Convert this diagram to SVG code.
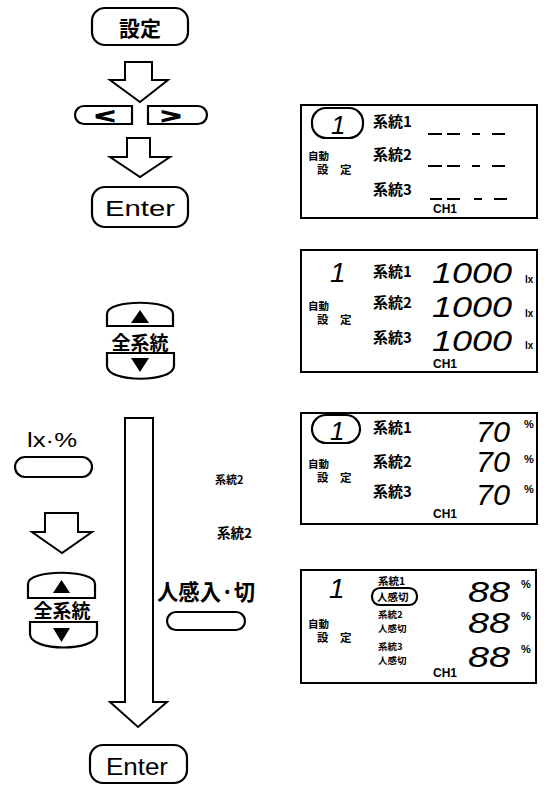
<svg xmlns="http://www.w3.org/2000/svg" width="544" height="785" viewBox="0 0 544 785">
<style>
.b{fill:#fff;stroke:#000;stroke-width:2.2}
.p{fill:#fff;stroke:#000;stroke-width:2}
.ar{fill:#fff;stroke:#000;stroke-width:2;stroke-linejoin:miter}
.j{font-family:"Noto Sans CJK JP","Noto Sans",sans-serif;font-weight:bold;fill:#000}
.l{font-family:"Liberation Sans",Arial,sans-serif;fill:#000}
.d{font-family:"Liberation Sans",Arial,sans-serif;font-style:italic;fill:#000}
.dash{stroke:#000;stroke-width:2.2}
.chev{font-family:"Liberation Sans",Arial,sans-serif;font-weight:bold;fill:#000;stroke:#000;stroke-width:1}
</style>
<rect width="544" height="785" fill="#fff"/>

<g id="connectors">
<polygon class="ar" points="125,62 152,62 152,80 168,80 140,102 110,80 125,80"/>
<polygon class="ar" points="127,138 150,138 150,157 170,157 140,177 110,157 127,157"/>
<polygon class="ar" points="45,513 78,513 78,532 92,532 62,553 32,532 45,532"/>
<polygon class="ar" points="125,418 153,418 153,702 167,702 138,727 110,702 125,702"/>
</g>

<g id="btn-settei">
<rect class="b" x="92" y="8" width="96" height="37" rx="13"/>
<text class="j" x="140" y="36" font-size="21" text-anchor="middle">設定</text>
</g>

<g id="btn-left">
<path class="b" d="M132,106 H84 A9,9 0 0 0 84,124 H132 Z"/>
<text class="chev" x="95" y="123" font-size="20" textLength="20" lengthAdjust="spacingAndGlyphs">&lt;</text>
</g>
<g id="btn-right">
<path class="b" d="M148,106 H198 A9,9 0 0 1 198,124 H148 Z"/>
<text class="chev" x="161" y="123" font-size="20" textLength="20" lengthAdjust="spacingAndGlyphs">&gt;</text>
</g>

<g id="btn-enter-top">
<rect class="b" x="92" y="187" width="96" height="40" rx="13"/>
<text class="l" x="105" y="216" font-size="22" textLength="70" lengthAdjust="spacingAndGlyphs">Enter</text>
</g>

<g id="btn-all-1">
<path class="b" d="M107,326 V314 C107,299 173,299 173,314 V326 Z"/>
<polygon points="140,310 149,323 131,323" fill="#000"/>
<text class="j" x="140" y="350" font-size="19" text-anchor="middle">全系統</text>
<path class="b" d="M107,353 V366 C107,383 174,383 174,366 V353 Z"/>
<polygon points="131,358 149,358 140,372" fill="#000"/>
</g>

<g id="btn-lx">
<text class="l" x="27" y="447" font-size="20" textLength="50" lengthAdjust="spacingAndGlyphs">lx·%</text>
<rect class="b" x="15" y="457" width="77" height="20" rx="10"/>
</g>

<g id="btn-all-2">
<path class="b" d="M28,598 V584 C28,569 95,569 95,584 V598 Z"/>
<polygon points="61.5,580 70,593 53,593" fill="#000"/>
<text class="j" x="62" y="618" font-size="19" text-anchor="middle">全系統</text>
<path class="b" d="M30,622 V634 C30,652 97,652 97,634 V622 Z"/>
<polygon points="53,628 70,628 61.5,642" fill="#000"/>
</g>

<g id="btn-jinkan">
<text class="j" x="157" y="600" font-size="22" textLength="98" lengthAdjust="spacingAndGlyphs">人感入·切</text>
<rect class="b" x="167" y="612" width="78" height="18" rx="9"/>
</g>

<g id="btn-enter-bottom">
<rect class="b" x="90" y="745" width="97" height="38" rx="13"/>
<text class="l" x="106" y="775" font-size="24" textLength="62" lengthAdjust="spacingAndGlyphs">Enter</text>
</g>

<g id="label-mid">
<text class="j" x="215" y="484" font-size="11">系統2</text>
<text class="j" x="217" y="538" font-size="13.5">系統2</text>
</g>

<g id="panel-1">
<rect class="p" x="301" y="105" width="236" height="113"/>
<rect class="b" x="312" y="108" width="51" height="30" rx="14"/>
<text class="d" x="331" y="134" font-size="26">1</text>
<text class="j" x="308" y="160" font-size="10.5">自動</text>
<text class="j" x="317" y="174" font-size="11.5">設　定</text>
<text class="j" x="373" y="127" font-size="15">系統1</text>
<text class="j" x="373" y="160" font-size="15">系統2</text>
<text class="j" x="373" y="195" font-size="15">系統3</text>
<path class="dash" d="M428,134 H442 M447,134 H460 M472,134 H480 M492,134 H505 M428,166 H442 M447,166 H460 M472,166 H480 M492,166 H505 M430,199 H442 M447,199 H460 M474,199 H482 M494,199 H507"/>
<text class="l" x="433" y="213" font-size="12" font-weight="bold">CH1</text>
</g>

<g id="panel-2">
<rect class="p" x="301" y="250" width="236" height="122"/>
<text class="d" x="330" y="282" font-size="28">1</text>
<text class="j" x="308" y="310" font-size="10.5">自動</text>
<text class="j" x="317" y="324" font-size="11.5">設　定</text>
<text class="j" x="373" y="277" font-size="15">系統1</text>
<text class="j" x="373" y="308" font-size="15">系統2</text>
<text class="j" x="373" y="343" font-size="15">系統3</text>
<text class="d" font-size="30"><tspan x="432" y="283" textLength="80" lengthAdjust="spacingAndGlyphs">1000</tspan><tspan x="432" y="317" textLength="80" lengthAdjust="spacingAndGlyphs">1000</tspan><tspan x="432" y="351" textLength="80" lengthAdjust="spacingAndGlyphs">1000</tspan></text>
<text class="l" font-size="10" font-weight="bold"><tspan x="525" y="283">lx</tspan><tspan x="525" y="317">lx</tspan><tspan x="525" y="349">lx</tspan></text>
<text class="l" x="433" y="368" font-size="12" font-weight="bold">CH1</text>
</g>

<g id="panel-3">
<rect class="p" x="301" y="413" width="236" height="111"/>
<rect class="b" x="312" y="415" width="48" height="28" rx="14"/>
<text class="d" x="330" y="440" font-size="26">1</text>
<text class="j" x="308" y="468" font-size="10.5">自動</text>
<text class="j" x="317" y="482" font-size="11.5">設　定</text>
<text class="j" x="373" y="433" font-size="15">系統1</text>
<text class="j" x="373" y="467" font-size="15">系統2</text>
<text class="j" x="373" y="497" font-size="15">系統3</text>
<text class="d" font-size="30"><tspan x="476" y="442" textLength="34" lengthAdjust="spacingAndGlyphs">70</tspan><tspan x="476" y="472" textLength="34" lengthAdjust="spacingAndGlyphs">70</tspan><tspan x="476" y="505" textLength="34" lengthAdjust="spacingAndGlyphs">70</tspan></text>
<text class="l" font-size="11" font-weight="bold"><tspan x="524" y="428">%</tspan><tspan x="524" y="463">%</tspan><tspan x="524" y="493">%</tspan></text>
<text class="l" x="433" y="518" font-size="12" font-weight="bold">CH1</text>
</g>

<g id="panel-4">
<rect class="p" x="301" y="570" width="235" height="113"/>
<text class="d" x="329" y="598" font-size="28">1</text>
<text class="j" x="308" y="628" font-size="10.5">自動</text>
<text class="j" x="317" y="642" font-size="11.5">設　定</text>
<text class="j" x="378" y="585" font-size="10.5">系統1</text>
<rect class="b" x="372" y="588" width="45" height="17" rx="8"/>
<text class="j" x="377" y="601" font-size="10.5">人感切</text>
<text class="j" x="378" y="617.5" font-size="9.5">系統2</text>
<text class="j" x="378" y="631.5" font-size="9.5">人感切</text>
<text class="j" x="378" y="649.5" font-size="9.5">系統3</text>
<text class="j" x="378" y="663.5" font-size="9.5">人感切</text>
<text class="d" font-size="30"><tspan x="468" y="602" textLength="42" lengthAdjust="spacingAndGlyphs">88</tspan><tspan x="468" y="633" textLength="42" lengthAdjust="spacingAndGlyphs">88</tspan><tspan x="468" y="667" textLength="42" lengthAdjust="spacingAndGlyphs">88</tspan></text>
<text class="l" font-size="11" font-weight="bold"><tspan x="521" y="588">%</tspan><tspan x="521" y="620">%</tspan><tspan x="521" y="653">%</tspan></text>
<text class="l" x="433" y="677" font-size="12" font-weight="bold">CH1</text>
</g>
</svg>
